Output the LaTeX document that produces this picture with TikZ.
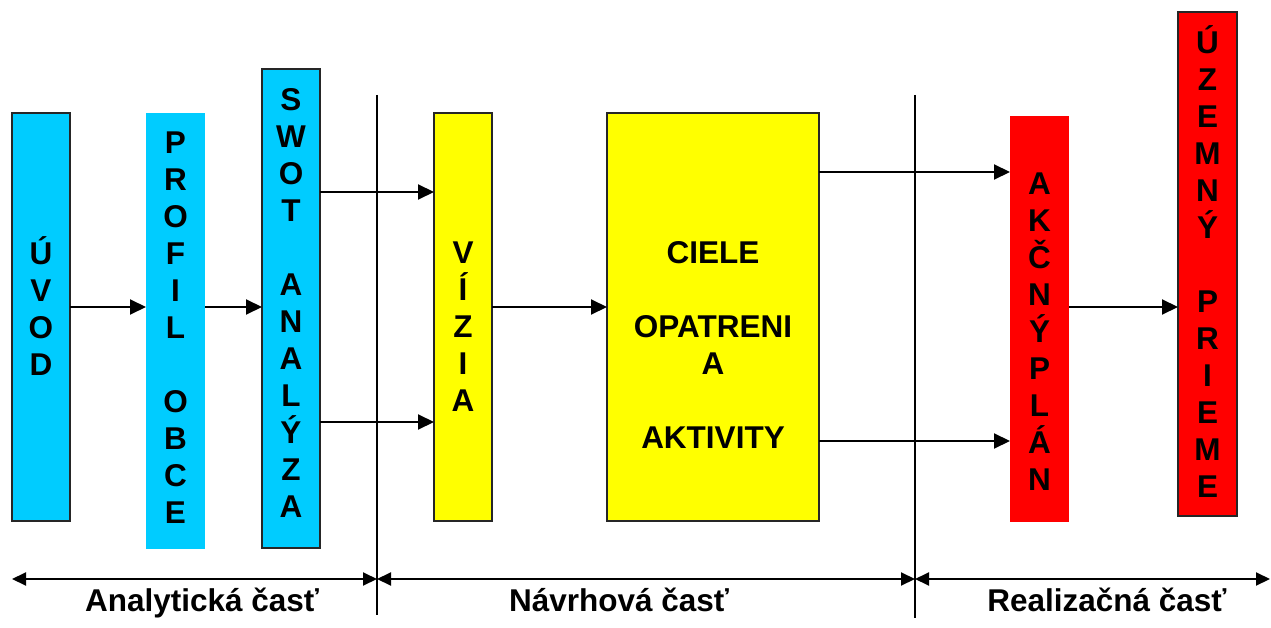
\documentclass[tikz,border=0pt]{standalone}
\usepackage{fontspec}
\setmainfont{Liberation Sans}
\usetikzlibrary{arrows.meta}
\definecolor{cblue}{HTML}{00CCFF}
\definecolor{cyel}{HTML}{FFFF00}
\definecolor{cred}{HTML}{FF0000}
\begin{document}
\begin{tikzpicture}[x=1pt,y=-1pt,
  boxb/.style={draw=black!85,line width=1.3pt,inner sep=0pt,outer sep=0pt},
  boxn/.style={draw=none,inner sep=0pt,outer sep=0pt},
  stack/.style={inner sep=0pt,outer sep=0pt,anchor=north,align=center,
    font=\fontsize{31.5}{37}\selectfont\bfseries},
  lbl/.style={inner sep=0pt,anchor=base,font=\fontsize{31.5}{37}\selectfont\bfseries},
  arr/.style={line width=2pt,-{Triangle[length=16pt,width=15pt]}},
  darr/.style={line width=2pt,{Triangle[length=14pt,width=13pt]}-{Triangle[length=14pt,width=13pt]}},
  vline/.style={line width=1.3pt,black}]
\useasboundingbox (0,0) rectangle (1271,628);
% boxes
\node[boxb,fill=cblue,minimum width=58pt,minimum height=408pt] (uvod) at (41,317) {};
\node[boxn,fill=cblue,minimum width=59pt,minimum height=436pt] (profil) at (175.5,331) {};
\node[boxb,fill=cblue,minimum width=58pt,minimum height=479pt] (swot) at (291,308.5) {};
\node[boxb,fill=cyel,minimum width=58pt,minimum height=408pt] (vizia) at (463,317) {};
\node[boxb,fill=cyel,minimum width=212pt,minimum height=408pt] (ciele) at (713,317) {};
\node[boxn,fill=cred,minimum width=59pt,minimum height=405pt] (akcny) at (1039.5,319) {};
\node[boxb,fill=cred,minimum width=59pt,minimum height=504pt] (uzemny) at (1207.5,264) {};
% texts
\node[stack] (uvodt) at (41,234) {\rule{0pt}{30pt}Ú\\V\\O\\D};
\node[stack] (profilt) at (175.5,123) {\rule{0pt}{30pt}P\\R\\O\\F\\I\\L\\[37pt]O\\B\\C\\E};
\node[stack] (swott) at (291,80) {\rule{0pt}{30pt}S\\W\\O\\T\\[37pt]A\\N\\A\\L\\Ý\\Z\\A};
\node[stack] (viziat) at (463,233) {\rule{0pt}{30pt}V\\Í\\Z\\I\\A};
\node[stack] (cielet) at (713,233) {\rule{0pt}{30pt}CIELE\\[37pt]OPATRENI\\A\\[37pt]AKTIVITY};
\node[stack] (akcnyt) at (1039.5,164) {\rule{0pt}{30pt}A\\K\\Č\\N\\Ý\\P\\L\\Á\\N};
\node[stack] (uzemnyt) at (1207.5,23) {\rule{0pt}{30pt}Ú\\Z\\E\\M\\N\\Ý\\[37pt]P\\R\\I\\E\\M\\E};
% vertical separators
\coordinate (v1t) at (377,95);
\coordinate (v1b) at (377,615);
\coordinate (v2t) at (915,95);
\coordinate (v2b) at (915,618);
\draw[vline] (v1t) -- (v1b);
\draw[vline] (v2t) -- (v2b);
% connectors
\draw[arr] (uvod.east |- 0,307) -- (profil.west |- 0,307);
\draw[arr] (profil.east |- 0,307) -- (swot.west |- 0,307);
\draw[arr] (swot.east |- 0,192) -- (vizia.west |- 0,192);
\draw[arr] (swot.east |- 0,422) -- (vizia.west |- 0,422);
\draw[arr] (vizia.east |- 0,307) -- (ciele.west |- 0,307);
\draw[arr] (ciele.east |- 0,172) -- (akcny.west |- 0,172);
\draw[arr] (ciele.east |- 0,441) -- (akcny.west |- 0,441);
\draw[arr] (akcny.east |- 0,307) -- (uzemny.west |- 0,307);
% bottom arrows
\coordinate (b0) at (12,579);
\coordinate (b1) at (377,579);
\coordinate (b2) at (915,579);
\coordinate (b3) at (1270,579);
\draw[darr] (b0) -- (b1);
\draw[darr] (b1) -- (b2);
\draw[darr] (b2) -- (b3);
% labels
\node[lbl] (l1) at (202,611) {Analytická časť};
\node[lbl] (l2) at (619,611) {Návrhová časť};
\node[lbl] (l3) at (1107,611) {Realizačná časť};
\end{tikzpicture}
\end{document}
